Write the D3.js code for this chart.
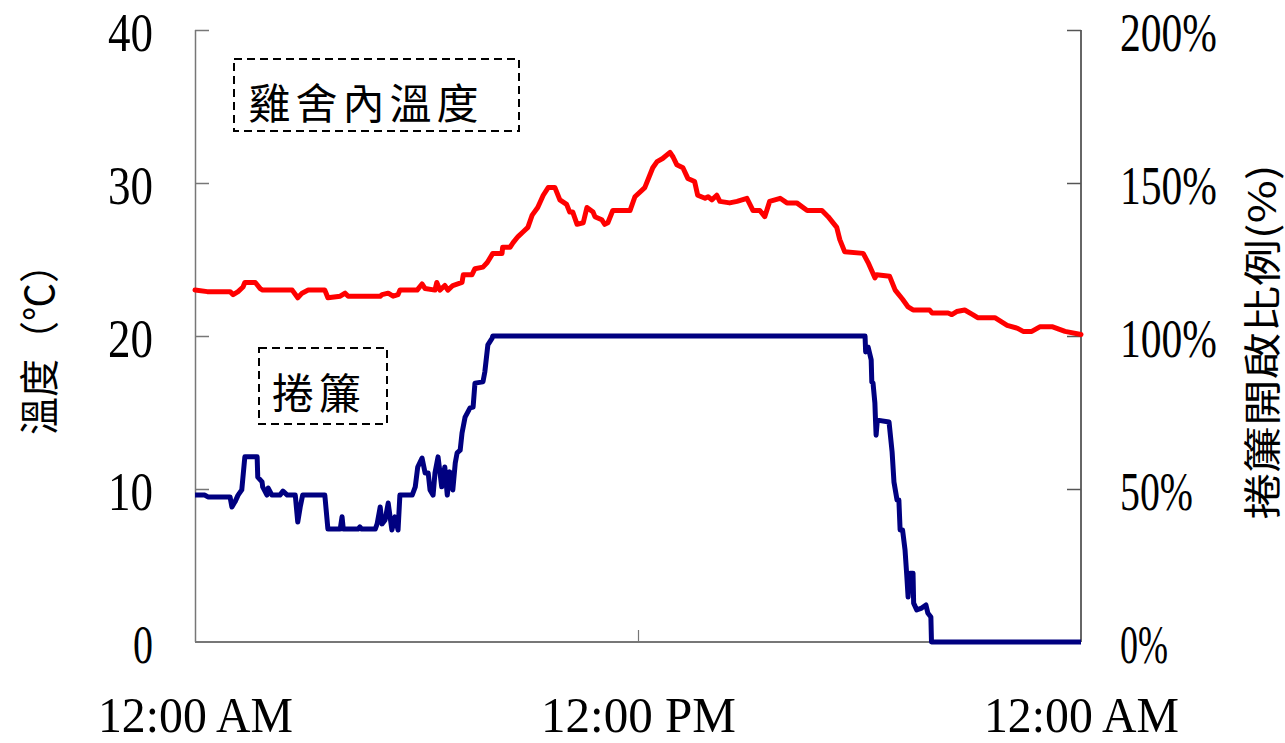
<!DOCTYPE html>
<html>
<head>
<meta charset="utf-8">
<script src="https://cdn.jsdelivr.net/npm/d3@7"></script>
<style>
  html, body { margin: 0; padding: 0; background: #fff; }
  svg { display: block; }
</style>
</head>
<body>
<svg id="chart" width="1285" height="743"></svg>
<script>
// Poultry house temperature (°C) and curtain opening ratio (%) over one day
const tempTimes = ["0:00","0:20","0:57","1:02","1:10","1:18","1:21","1:38","1:46","1:50",
  "2:38","2:47","2:54","3:04","3:31","3:36","3:56","4:04","4:09","5:01",
  "5:04","5:14","5:22","5:30","5:33","6:01","6:09","6:14","6:30","6:33",
  "6:38","6:46","6:51","6:59","7:14","7:16","7:30","7:35","7:48","7:55",
  "8:04","8:19","8:20","8:32","8:37","8:45","8:53","9:01","9:08","9:17",
  "9:26","9:34","9:45","9:53","10:04","10:09","10:14","10:21","10:31","10:37",
  "10:47","10:50","11:01","11:06","11:11","11:19","11:47","11:55","12:11","12:24",
  "12:31","12:40","12:52","12:57","13:03","13:13","13:21","13:32","13:37","13:49",
  "13:54","14:00","14:08","14:13","14:29","14:41","14:57","15:07","15:18","15:26",
  "15:34","15:51","16:02","16:18","16:35","16:59","17:09","17:23","17:28","17:36",
  "18:06","18:14","18:25","18:28","18:49","18:58","19:10","19:19","19:27","19:54",
  "19:58","20:24","20:30","20:38","20:51","21:04","21:12","21:40","22:00","22:17",
  "22:26","22:40","22:53","23:14","23:34","24:00"];
const tempValues = [23.0,22.9,22.9,22.7,22.9,23.2,23.5,23.5,23.1,23.0,
  23.0,22.5,22.8,23.0,23.0,22.5,22.6,22.8,22.6,22.6,
  22.7,22.8,22.6,22.7,23.0,23.0,23.4,23.1,23.0,23.5,
  23.0,23.3,23.0,23.3,23.5,24.0,24.0,24.4,24.5,24.8,
  25.4,25.4,25.8,25.8,26.1,26.5,26.8,27.1,27.9,28.4,
  29.2,29.7,29.7,28.9,28.6,28.1,28.1,27.3,27.4,28.4,
  28.1,27.8,27.6,27.3,27.4,28.2,28.2,29.1,29.7,31.0,
  31.4,31.6,32.0,31.7,31.2,31.0,30.3,30.1,29.2,29.0,
  29.1,28.9,29.2,28.8,28.7,28.8,29.0,28.2,28.2,27.8,
  28.8,29.0,28.7,28.7,28.2,28.2,27.8,27.1,26.3,25.5,
  25.4,24.8,23.8,24.0,23.9,23.0,22.4,21.9,21.7,21.7,
  21.5,21.5,21.4,21.6,21.7,21.4,21.2,21.2,20.7,20.5,
  20.3,20.3,20.6,20.6,20.3,20.1];

const curtainTimes = ["0:00","0:16","0:21","0:57","1:00","1:05","1:10","1:16","1:21","1:41",
  "1:42","1:49","1:50","1:57","1:59","2:05","2:18","2:23","2:30","2:43",
  "2:47","2:51","2:55","3:31","3:36","3:56","3:59","4:01","4:25","4:28",
  "4:31","4:53","4:56","5:01","5:04","5:09","5:14","5:20","5:25","5:30",
  "5:33","5:53","5:58","6:02","6:09","6:14","6:19","6:22","6:27","6:30",
  "6:35","6:41","6:46","6:50","6:54","6:59","7:03","7:06","7:11","7:14",
  "7:19","7:27","7:32","7:35","7:48","7:51","7:56","8:03","8:04","18:09",
  "18:10","18:14","18:19","18:20","18:22","18:25","18:26","18:27","18:29","18:48",
  "18:53","18:56","19:01","19:04","19:06","19:10","19:14","19:17","19:19","19:22",
  "19:27","19:28","19:33","19:41","19:48","19:51","19:56","19:57","24:00"];
const curtainValues = [48,48,47.4,47.4,44.1,45.8,48,49.7,60.5,60.5,
  53.9,52.3,50.7,48,50.3,48,48,49.3,48,48,
  39.2,44.1,48,48,36.9,36.9,40.9,36.9,36.9,37.6,
  36.9,36.9,38.6,44.1,38.6,39.9,45.4,36.6,40.9,36.6,
  48,48,50.7,57.2,60.1,55.2,55.2,49.7,48,55.2,
  60.5,50.7,57.2,48,55.6,49.7,58.5,61.8,62.7,68.3,
  73.5,76.5,76.8,84.6,85.0,88.2,97.1,99.3,100,100,
  94.8,96.4,92.2,85.0,84.6,78.1,72.5,67.6,72.5,71.9,
  62.1,52.3,46.4,46.4,36.6,36.6,30.1,21.2,14.7,22.5,
  22.5,12.7,10.5,11.1,12.1,9.5,8.2,0,0];

const xTicks = [0, 12, 24];
const xTickLabels = ["12:00 AM", "12:00 PM", "12:00 AM"];
const tempTicks = [0, 10, 20, 30, 40];
const curtainTicks = [0, 50, 100, 150, 200];

const toHours = s => { const [h, m] = s.split(":").map(Number); return h + m / 60; };
const tempData = tempTimes.map((t, i) => ({ h: toHours(t), v: tempValues[i] }));
const curtainData = curtainTimes.map((t, i) => ({ h: toHours(t), v: curtainValues[i] }));

const plotLeft = 195, plotRight = 1081, plotTop = 30, plotBottom = 642;
const x = d3.scaleLinear().domain([0, 24]).range([plotLeft, plotRight]);
const yT = d3.scaleLinear().domain([0, 40]).range([plotBottom, plotTop]);
const yC = d3.scaleLinear().domain([0, 200]).range([plotBottom, plotTop]);

const svg = d3.select("#chart");
const numFont = "'Liberation Serif', 'DejaVu Serif', serif";
const cjkFont = "'Noto Sans CJK TC', 'Noto Sans CJK SC', sans-serif";

// Left axis (temperature)
const gL = svg.append("g").attr("transform", `translate(${plotLeft},0)`)
  .call(d3.axisLeft(yT).tickValues(tempTicks).tickSize(-14).tickPadding(42).tickFormat(d3.format("d")));
gL.select(".domain").attr("stroke", "#777").attr("stroke-width", 1.5).attr("d", `M0.5,${plotTop}V${plotBottom}`);
gL.selectAll(".tick line").attr("stroke", "#777").attr("stroke-width", 1.5)
  .attr("display", d => d === 0 ? "none" : null);
gL.selectAll(".tick text")
  .attr("font-family", numFont).attr("font-size", 54).attr("fill", "#000")
  .attr("dy", 20)
  .attr("textLength", d => d === 0 ? 20 : 45).attr("lengthAdjust", "spacingAndGlyphs");

// Right axis (curtain opening)
const gR = svg.append("g").attr("transform", `translate(${plotRight},0)`)
  .call(d3.axisRight(yC).tickValues(curtainTicks).tickSize(-14).tickPadding(39).tickFormat(d => d + "%"));
gR.select(".domain").attr("stroke", "#333").attr("stroke-width", 1.5).attr("d", `M0,${plotTop}V${plotBottom}`);
gR.selectAll(".tick line").attr("stroke", "#555").attr("stroke-width", 1.5)
  .attr("display", d => d === 0 ? "none" : null);
gR.selectAll(".tick text")
  .attr("font-family", numFont).attr("font-size", 54).attr("fill", "#000")
  .attr("dy", 20)
  .attr("textLength", d => d >= 100 ? 97 : (d >= 10 ? 73 : 48)).attr("lengthAdjust", "spacingAndGlyphs");

// Bottom axis (time of day)
const gB = svg.append("g").attr("transform", `translate(0,${plotBottom})`)
  .call(d3.axisBottom(x).tickValues(xTicks).tickSize(-12).tickPadding(90)
    .tickFormat((d, i) => xTickLabels[i]));
gB.select(".domain").attr("stroke", "#777").attr("stroke-width", 2).attr("d", `M${plotLeft},0H${plotRight}`);
gB.selectAll(".tick line").attr("stroke", "#777").attr("stroke-width", 1.2)
  .attr("display", d => (d === 0 || d === 24) ? "none" : null);
gB.selectAll(".tick text")
  .attr("font-family", numFont).attr("font-size", 50).attr("fill", "#000")
  .attr("dy", 0)
  .attr("textLength", 195).attr("lengthAdjust", "spacingAndGlyphs");

// Series lines
const line = y => d3.line().x(d => x(d.h)).y(d => y(d.v)).curve(d3.curveLinear);
svg.append("path").datum(tempData)
  .attr("fill", "none").attr("stroke", "#ff0000").attr("stroke-width", 5)
  .attr("stroke-linejoin", "round").attr("stroke-linecap", "round")
  .attr("d", line(yT));
svg.append("path").datum(curtainData)
  .attr("fill", "none").attr("stroke", "#000080").attr("stroke-width", 5)
  .attr("stroke-linejoin", "round").attr("stroke-linecap", "butt")
  .attr("d", line(yC));

// Axis titles
svg.append("text")
  .attr("transform", "translate(37,340) rotate(-90)")
  .attr("text-anchor", "middle").attr("dominant-baseline", "central")
  .attr("font-family", cjkFont).attr("font-size", 40).attr("fill", "#000")
  .attr("textLength", 190).attr("lengthAdjust", "spacingAndGlyphs")
  .text("溫度（℃）");
svg.append("text")
  .attr("transform", "translate(1259,342) rotate(-90)")
  .attr("text-anchor", "middle").attr("dominant-baseline", "central")
  .attr("font-family", cjkFont).attr("font-size", 38).attr("fill", "#000")
  .attr("textLength", 355).attr("lengthAdjust", "spacingAndGlyphs")
  .text("捲簾開啟比例(%)");

// Dashed label boxes
const boxes = [
  { label: "雞舍內溫度", x0: 234, y0: 59, x1: 519, y1: 131, cx: 366, cy: 100 },
  { label: "捲簾", x0: 259, y0: 348, x1: 387, y1: 424, cx: 319, cy: 390 }
];
boxes.forEach(b => {
  svg.append("rect")
    .attr("x", b.x0).attr("y", b.y0).attr("width", b.x1 - b.x0).attr("height", b.y1 - b.y0)
    .attr("fill", "none").attr("stroke", "#000").attr("stroke-width", 2)
    .attr("stroke-dasharray", "8,5");
  svg.append("text")
    .attr("x", b.cx).attr("y", b.cy)
    .attr("text-anchor", "middle").attr("dominant-baseline", "central")
    .attr("font-family", cjkFont).attr("font-size", 42).attr("fill", "#000")
    .attr("letter-spacing", 5)
    .text(b.label);
});
</script>
</body>
</html>
